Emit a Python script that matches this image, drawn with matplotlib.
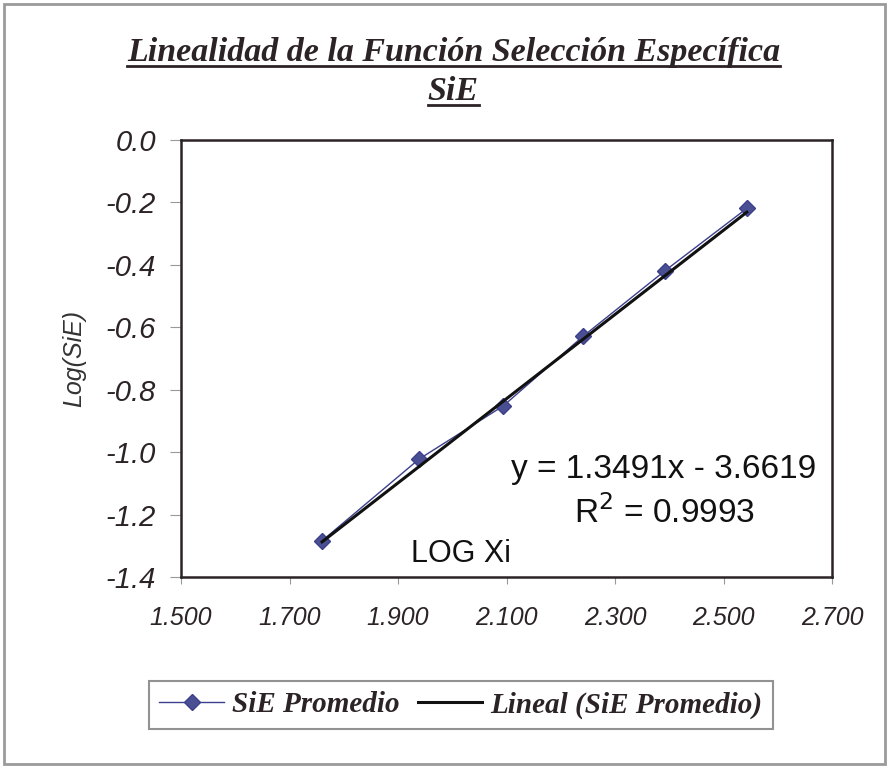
import numpy as np
import matplotlib
matplotlib.use("Agg")
import matplotlib.pyplot as plt
from matplotlib.lines import Line2D
from matplotlib.patches import Rectangle

# datos
log_xi = [1.760, 1.939, 2.094, 2.241, 2.392, 2.543]
log_sie = [-1.284, -1.022, -0.852, -0.629, -0.419, -0.219]
pendiente = 1.3491
intercepto = -3.6619
r2 = 0.9993
xticks = [1.5, 1.7, 1.9, 2.1, 2.3, 2.5, 2.7]
yticks = [0.0, -0.2, -0.4, -0.6, -0.8, -1.0, -1.2, -1.4]

txt = "#2b2326"
fig = plt.figure(figsize=(8.89, 7.68), dpi=100)
fig.patch.set_facecolor("white")
fig.patches.append(Rectangle((0.004, 0.005), 0.992, 0.99, transform=fig.transFigure,
                             fill=False, edgecolor="#9a9a9a", lw=2))

ax = fig.add_axes([181/889, 1-577/768, (832-181)/889, (577-140)/768])

ax.plot(log_xi, log_sie, color="#3b3f8c", lw=1.0, marker="D", ms=8,
        markerfacecolor="#4a4f94", markeredgecolor="#3b3f8c", label="SiE Promedio", zorder=3)
xt = np.array([log_xi[0], log_xi[-1]])
ax.plot(xt, pendiente*xt + intercepto, color="#111111", lw=2.2,
        label="Lineal (SiE Promedio)", zorder=4)

ax.set_xlim(1.5, 2.7)
ax.set_ylim(-1.4, 0.0)
ax.set_xticks(xticks)
ax.set_yticks(yticks)
ax.set_xticklabels([f"{v:.3f}" for v in xticks], fontfamily="Liberation Sans",
                   fontstyle="italic", fontsize=18, color=txt)
ax.set_yticklabels([f"{v:.1f}" for v in yticks], fontfamily="Liberation Sans",
                   fontstyle="italic", fontsize=21, color=txt)
ax.tick_params(axis="x", direction="out", length=5, color="#999999", pad=16)
ax.tick_params(axis="y", direction="out", length=8, color="#999999", pad=10)
for s in ax.spines.values():
    s.set_color("#2b2326")
    s.set_linewidth(1.8)

ax.set_ylabel("Log(SiE)", fontfamily="Liberation Sans", fontstyle="italic",
              fontsize=18, color="#333333", labelpad=14)

ax.text(0.742, 0.245, f"y = {pendiente}x - {abs(intercepto)}", transform=ax.transAxes,
        ha="center", va="center", fontfamily="Liberation Sans", fontsize=24, color="#111111")
ax.text(0.742, 0.147, f"R$^2$ = {r2}", transform=ax.transAxes,
        ha="center", va="center", fontfamily="Liberation Sans", fontsize=24, color="#111111")
ax.text(0.43, 0.052, "LOG Xi", transform=ax.transAxes,
        ha="center", va="center", fontfamily="Liberation Sans", fontsize=22, color="#111111")

t1 = fig.text(0.51, 1-52/768, "Linealidad de la Función Selección Específica", ha="center", va="center",
              fontfamily="Liberation Serif", fontweight="bold", fontstyle="italic", fontsize=24.5, color=txt)
t2 = fig.text(0.51, 1-91/768, "SiE", ha="center", va="center",
              fontfamily="Liberation Serif", fontweight="bold", fontstyle="italic", fontsize=24.5, color=txt)

leg = fig.legend(handles=ax.get_lines(), loc="center", bbox_to_anchor=(461/889, 1-705/768),
                 ncol=2, frameon=True, fancybox=False, handlelength=2.2, columnspacing=0.6,
                 handletextpad=0.3, borderpad=0.35,
                 prop={"family": "Liberation Serif", "weight": "bold", "style": "italic", "size": 21})
leg.get_frame().set_edgecolor("#777777")
leg.get_frame().set_linewidth(1.5)
for t in leg.get_texts():
    t.set_color(txt)

# subrayado del titulo
fig.canvas.draw()
r = fig.canvas.get_renderer()
for t in (t1, t2):
    bb = t.get_window_extent(r)
    y = bb.y0 + 2
    fig.lines.append(Line2D([bb.x0/889, bb.x1/889], [y/768, y/768], transform=fig.transFigure,
                            color=txt, lw=2))

fig.savefig("out.png", dpi=100)
